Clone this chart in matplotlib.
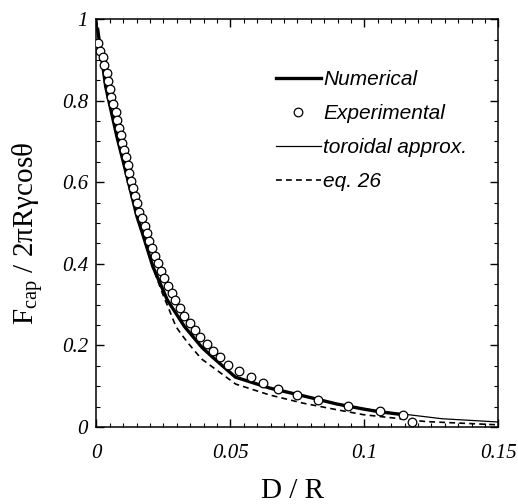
import matplotlib
matplotlib.use("Agg")
import matplotlib.pyplot as plt
from matplotlib.ticker import MultipleLocator, FixedLocator

plt.rcParams["mathtext.fontset"] = "custom"
plt.rcParams["mathtext.rm"] = "Liberation Serif"

# Experimental data (D/R, Fcap/2πRγcosθ)
exp_x = [0.0005, 0.0014, 0.0023, 0.0030, 0.0038, 0.0044, 0.0050, 0.0056, 0.0064, 0.0073,
         0.0078, 0.0084, 0.0091, 0.0096, 0.0103, 0.0110, 0.0117, 0.0122, 0.0128, 0.0136,
         0.0144, 0.0153, 0.0160, 0.0171, 0.0181, 0.0190, 0.0198, 0.0207, 0.0218, 0.0229,
         0.0241, 0.0254, 0.0268, 0.0281, 0.0295, 0.0311, 0.0328, 0.0348, 0.0367, 0.0388,
         0.0412, 0.0435, 0.0463, 0.0492, 0.0533, 0.0577, 0.0621, 0.0678, 0.0749, 0.0828,
         0.0938, 0.1057, 0.1145, 0.1177]
exp_y = [0.941, 0.922, 0.906, 0.887, 0.868, 0.848, 0.828, 0.809, 0.793, 0.773,
         0.752, 0.734, 0.716, 0.697, 0.679, 0.661, 0.642, 0.622, 0.603, 0.585,
         0.566, 0.548, 0.528, 0.512, 0.493, 0.475, 0.456, 0.438, 0.420, 0.401,
         0.383, 0.364, 0.346, 0.328, 0.310, 0.291, 0.273, 0.254, 0.238, 0.221,
         0.203, 0.187, 0.171, 0.152, 0.136, 0.122, 0.107, 0.092, 0.078, 0.066,
         0.051, 0.040, 0.028, 0.011]

# Numerical solution
num_x = [0.0005, 0.0035, 0.0077, 0.0118, 0.0152, 0.0172, 0.0211, 0.0265, 0.0329, 0.0394,
         0.0432, 0.0519, 0.0648, 0.0773, 0.0898, 0.0995, 0.1057, 0.1145]
num_y = [0.975, 0.834, 0.711, 0.605, 0.515, 0.475, 0.393, 0.311, 0.246, 0.195,
         0.172, 0.122, 0.095, 0.076, 0.056, 0.044, 0.037, 0.030]

# Toroidal approximation
tor_x = [0.0, 0.0035, 0.0077, 0.0118, 0.0152, 0.0172, 0.0211, 0.0265, 0.0329, 0.0394,
         0.0432, 0.0519, 0.0648, 0.0773, 0.0898, 0.0995, 0.1100, 0.1290, 0.1500]
tor_y = [1.0, 0.836, 0.712, 0.606, 0.516, 0.476, 0.393, 0.311, 0.246, 0.195,
         0.172, 0.123, 0.095, 0.075, 0.057, 0.045, 0.035, 0.020, 0.012]

# eq. 26
eq_x = [0.0, 0.0035, 0.0077, 0.0118, 0.0152, 0.0211, 0.0250, 0.0272, 0.0297, 0.0314,
        0.0343, 0.0375, 0.0394, 0.0520, 0.0648, 0.0773, 0.0898, 0.0996, 0.1230, 0.1500]
eq_y = [1.0, 0.834, 0.711, 0.605, 0.515, 0.390, 0.322, 0.287, 0.246, 0.230,
        0.205, 0.180, 0.166, 0.105, 0.078, 0.058, 0.042, 0.030, 0.013, 0.005]

x_ticks = [0, 0.05, 0.1, 0.15]
x_ticklabels = ["0", "0.05", "0.1", "0.15"]
y_ticks = [0, 0.2, 0.4, 0.6, 0.8, 1.0]
y_ticklabels = ["0", "0.2", "0.4", "0.6", "0.8", "1"]

fig = plt.figure(figsize=(5.18, 5.04), dpi=100)
ax = fig.add_axes([0.186, 0.153, 0.776, 0.809])

ax.plot(num_x, num_y, color="black", lw=2.4, label="Numerical", zorder=3)
ax.plot(exp_x, exp_y, linestyle="none", marker="o", ms=6.2, mfc="white", mec="black",
        mew=0.9, label="Experimental", zorder=4)
ax.plot(tor_x, tor_y, color="black", lw=0.9, label="toroidal approx.", zorder=2)
ax.plot(eq_x, eq_y, color="black", lw=1.2, ls=(0, (3.5, 2.5)), label="eq. 26", zorder=2)

ax.set_xlim(0, 0.15)
ax.set_ylim(0, 1)

ax.xaxis.set_major_locator(FixedLocator(x_ticks))
ax.set_xticklabels(x_ticklabels)
ax.yaxis.set_major_locator(FixedLocator(y_ticks))
ax.set_yticklabels(y_ticklabels)
ax.xaxis.set_minor_locator(MultipleLocator(0.005))
ax.yaxis.set_minor_locator(MultipleLocator(0.05))

ax.tick_params(which="both", direction="in", top=True, right=True, color="black")
ax.tick_params(which="major", length=6, width=1.0)
ax.tick_params(axis="x", which="major", pad=12)
ax.tick_params(axis="y", which="major", pad=6)
ax.tick_params(which="minor", length=3, width=0.8)
for lab in ax.get_xticklabels() + ax.get_yticklabels():
    lab.set_fontfamily("Liberation Serif")
    lab.set_fontstyle("italic")
    lab.set_fontsize(15)

for sp in ax.spines.values():
    sp.set_linewidth(1.1)

ax.set_xlabel("D / R", fontfamily="Liberation Serif", fontsize=21, labelpad=11)
ax.set_ylabel(r"F$_\mathregular{cap}$ / 2πRγcosθ", fontfamily="Liberation Serif",
              fontsize=21, labelpad=11)
ax.xaxis.label.set_x(0.487)
ax.yaxis.label.set_y(0.475)

leg = ax.legend(loc="upper left", bbox_to_anchor=(0.425, 0.895), frameon=False,
                borderaxespad=0, handlelength=2.2, handletextpad=0.1, labelspacing=0.72,
                prop={"family": "Liberation Sans", "style": "italic", "size": 15})

fig.savefig("out.png", dpi=100)
